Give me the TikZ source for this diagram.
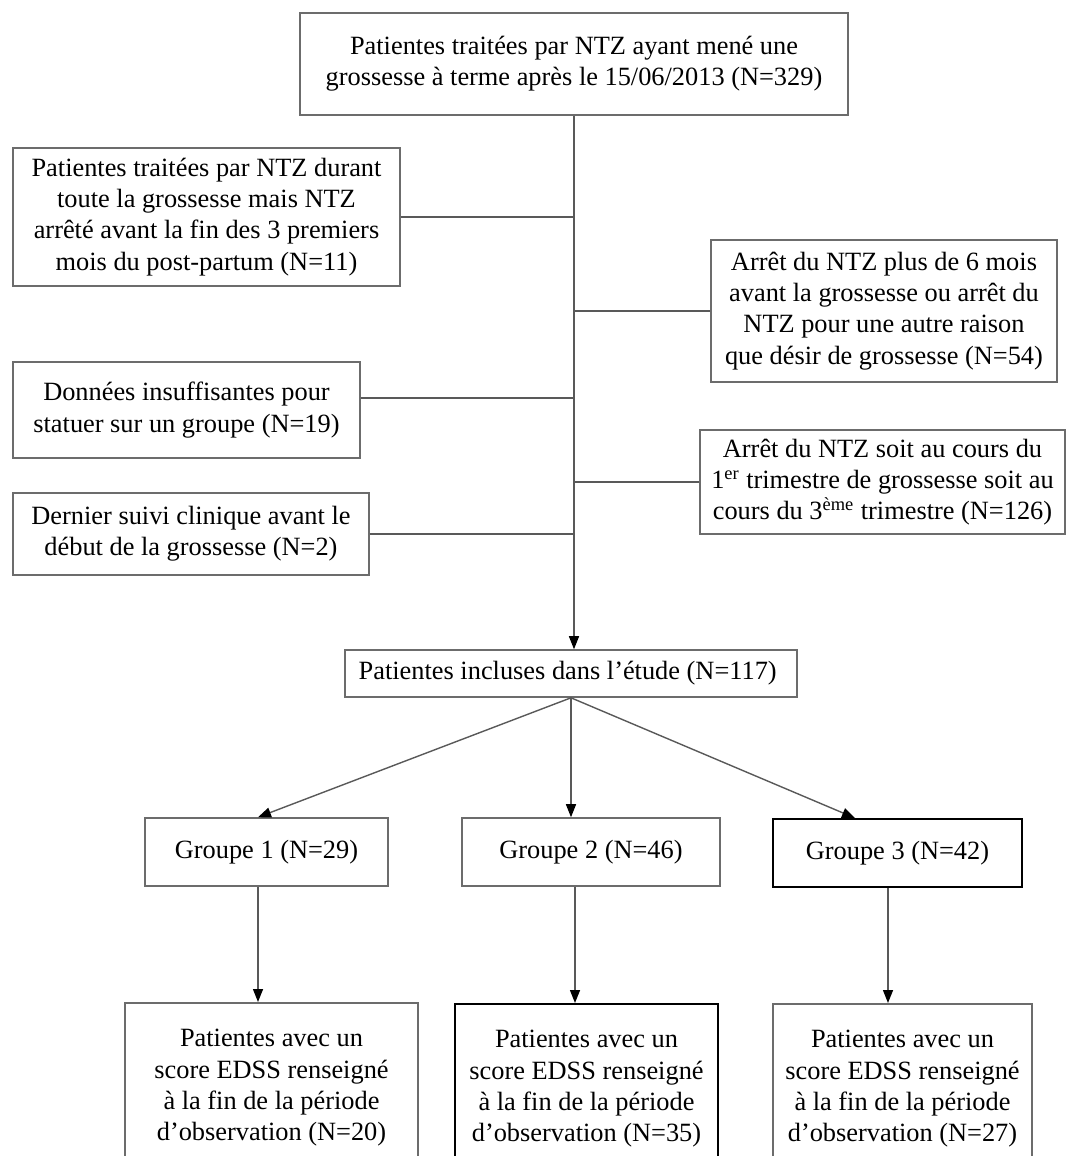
\documentclass[tikz,border=0pt]{standalone}
\usepackage{fontspec}
\setmainfont{Liberation Serif}
\usepackage{tikz}
\usetikzlibrary{arrows.meta}
\usetikzlibrary{positioning,calc}
\tikzset{
    block/.style={
           rectangle,
           draw=gray!85!black, line width=0.9pt,
           inner sep=0pt,
           align=center,
           font=\fontsize{15}{17.8}\selectfont,
           },
    block2/.style={
           rectangle,
           draw=black, line width=1.1pt,
           inner sep=0pt,
           align=center,
           font=\fontsize{15}{17.8}\selectfont,
           },
    link/.style={
           draw=gray!70!black, line width=0.8pt,
           }
}
\begin{document}
\begin{tikzpicture}
[
>={Triangle[length=0.26cm,width=0.2cm,color=black]}
]
 \useasboundingbox (0,0) rectangle (21.34,-23.12);

 % First node: all pregnancies
 \node[block,
 minimum width=10.96cm,
 minimum height=2.04cm] (TOTAL) at (11.48,-1.28)
 {%
 Patientes traitées par NTZ ayant mené une\\
 grossesse à terme après le 15/06/2013 (N=329)
 };

 % excluded, left side
 \node[block,
 minimum width=7.74cm,
 minimum height=2.76cm] (POSTPART) at (4.13,-4.34)
 {%
 Patientes traitées par NTZ durant\\
 toute la grossesse mais NTZ\\
 arrêté avant la fin des 3 premiers\\
 mois du post-partum (N=11)
 };

 \node[block,
 minimum width=6.94cm,
 minimum height=1.92cm] (MISSING) at (3.73,-8.2)
 {%
 Données insuffisantes pour\\
 statuer sur un groupe (N=19)
 };

 \node[block,
 minimum width=7.12cm,
 minimum height=1.64cm] (LASTVISIT) at (3.82,-10.68)
 {%
 Dernier suivi clinique avant le\\
 début de la grossesse (N=2)
 };

 % excluded, right side
 \node[block,
 minimum width=6.92cm,
 minimum height=2.84cm] (STOP6M) at (17.68,-6.22)
 {%
 Arrêt du NTZ plus de 6 mois\\
 avant la grossesse ou arrêt du\\
 NTZ pour une autre raison\\
 que désir de grossesse (N=54)
 };

 \node[block,
 minimum width=7.3cm,
 minimum height=2.08cm] (TRIM) at (17.65,-9.64)
 {%
 Arrêt du NTZ soit au cours du\\
 1\textsuperscript{er} trimestre de grossesse soit au\\
 cours du 3\textsuperscript{ème} trimestre (N=126)
 };

 % Next node: included
 \node[block,
 minimum width=9.04cm,
 minimum height=0.94cm] (INCL) at (11.42,-13.47)
 {%
 Patientes incluses dans l’étude (N=117)
 };

 % the three groups
 \node[block,
 minimum width=4.86cm,
 minimum height=1.36cm] (GRP1) at (5.33,-17.04)
 {Groupe 1 (N=29)};

 \node[block,
 minimum width=5.16cm,
 minimum height=1.36cm] (GRP2) at (11.82,-17.04)
 {Groupe 2 (N=46)};

 \node[block2,
 minimum width=4.98cm,
 minimum height=1.36cm] (GRP3) at (17.95,-17.06)
 {Groupe 3 (N=42)};

 % EDSS at the end of follow-up
 \node[block,
 anchor=north,
 minimum width=5.86cm,
 minimum height=3.4cm] (EDSS1) at (5.43,-20.04)
 {%
 Patientes avec un\\
 score EDSS renseigné\\
 à la fin de la période\\
 d’observation (N=20)
 };

 \node[block2,
 anchor=north,
 minimum width=5.26cm,
 minimum height=3.4cm] (EDSS2) at (11.73,-20.06)
 {%
 Patientes avec un\\
 score EDSS renseigné\\
 à la fin de la période\\
 d’observation (N=35)
 };

 \node[block,
 anchor=north,
 minimum width=5.18cm,
 minimum height=3.4cm] (EDSS3) at (18.05,-20.06)
 {%
 Patientes avec un\\
 score EDSS renseigné\\
 à la fin de la période\\
 d’observation (N=27)
 };

 % where the arrows meet the boxes
 \coordinate (IN1) at ([xshift=-0.17cm]GRP1.north);
 \coordinate (IN3) at ([xshift=-0.85cm]GRP3.north);
 \coordinate (OUT1) at ([xshift=-0.17cm]GRP1.south);
 \coordinate (OUT2) at ([xshift=-0.32cm]GRP2.south);
 \coordinate (OUT3) at ([xshift=-0.19cm]GRP3.south);

 % draw the arrows
 \draw[link,->] (TOTAL.south) -- (TOTAL.south |- INCL.north);
 \draw[link,->] (INCL.south) -- (IN1);
 \draw[link,->] (INCL.south) -- (INCL.south |- GRP2.north);
 \draw[link,->] (INCL.south) -- (IN3);
 \draw[link,->] (OUT1) -- (OUT1 |- EDSS1.north);
 \draw[link,->] (OUT2) -- (OUT2 |- EDSS2.north);
 \draw[link,->] (OUT3) -- (OUT3 |- EDSS3.north);

 % and the side branches
 \path[link]
 (POSTPART.east) edge (POSTPART.east -| TOTAL.south)
 ([yshift=0.24cm]MISSING.east) edge ([yshift=0.24cm]MISSING.east -| TOTAL.south)
 (LASTVISIT.east) edge (LASTVISIT.east -| TOTAL.south)
 (STOP6M.west) edge (STOP6M.west -| TOTAL.south)
 (TRIM.west) edge (TRIM.west -| TOTAL.south)
 ;

\end{tikzpicture}
\end{document}
